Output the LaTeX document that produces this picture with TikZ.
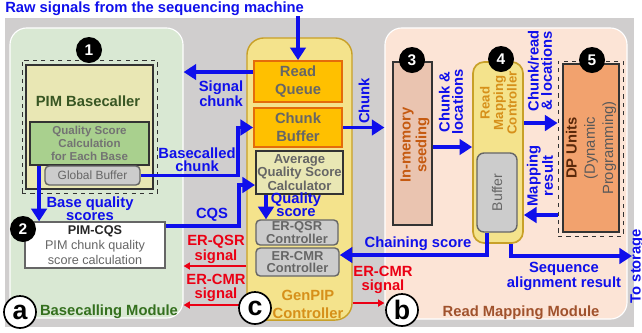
\documentclass[tikz,border=0pt]{standalone}
\usepackage{fontspec}
\setmainfont{Liberation Sans}
\usepackage{tikz}
\usetikzlibrary{arrows.meta}
\definecolor{bggray}{RGB}{208,206,206}
\definecolor{greenmod}{RGB}{217,232,211}
\definecolor{peachmod}{RGB}{252,228,214}
\definecolor{gpfill}{RGB}{244,227,140}
\definecolor{gpbord}{RGB}{200,160,40}
\definecolor{orfill}{RGB}{255,192,0}
\definecolor{orbord}{RGB}{228,108,10}
\definecolor{paleyel}{RGB}{233,231,180}
\definecolor{qsgreen}{RGB}{169,208,142}
\definecolor{boxgray}{RGB}{204,204,204}
\definecolor{seedfill}{RGB}{234,196,176}
\definecolor{dpfill}{RGB}{242,162,110}
\definecolor{myblue}{RGB}{15,15,235}
\definecolor{myred}{RGB}{235,0,20}
\definecolor{dkgreen}{RGB}{56,86,35}
\definecolor{modgreen}{RGB}{52,112,30}
\definecolor{brn}{RGB}{160,82,45}
\definecolor{seedtxt}{RGB}{197,90,17}
\definecolor{gpor}{RGB}{214,144,26}
\definecolor{dpbrown}{RGB}{90,40,10}

\begin{document}
\begin{tikzpicture}[x=0.025cm, y=-0.025cm,
    lbl/.style={text=myblue, font=\fontsize{10.5}{9.4}\selectfont\bfseries, align=center, inner sep=0pt},
    rlbl/.style={lbl, text=myred},
    barrow/.style={draw=myblue, line width=2.8pt, -{Triangle[length=9pt,width=11pt]}},
    rarrow/.style={draw=myred, line width=1.4pt, -{Triangle[length=4.5pt,width=5pt]}},
    numdot/.style={circle, fill=black, text=white, inner sep=0pt, minimum size=0.65cm, font=\fontsize{11}{11}\selectfont\bfseries},
    modtag/.style={circle, draw=black, line width=1.2pt, fill=white, inner sep=0pt, minimum size=0.8cm, font=\fontsize{19}{19}\selectfont\bfseries},
    module/.style={draw=white, line width=0.8pt, rounded corners=12pt},
    orbox/.style={draw=orbord, line width=1.2pt, fill=orfill, text=black!60, align=center, inner sep=1pt, font=\fontsize{10.5}{12.8}\selectfont\bfseries},
    ctlbox/.style={draw=black!60, line width=1pt, fill=boxgray, rounded corners=3pt, text=black!60, align=center, inner sep=0.5pt},
    darkbox/.style={draw=black!80, line width=1.3pt, inner sep=1pt},
    frm/.style={draw=black!80, dashed, line width=0.6pt}]
\useasboundingbox (0,0) rectangle (642,332);
\fill[bggray] (5,18) rectangle (634,327);

% modules
\node[module, fill=greenmod, minimum width=4.325cm, minimum height=7.25cm] (bcm) at (96.5,173) {};
\node[module, fill=peachmod, minimum width=6.05cm, minimum height=7.275cm] (rmm) at (506,173.5) {};
\node[draw=gpbord, fill=gpfill, line width=1pt, rounded corners=12pt, minimum width=2.625cm, minimum height=7.05cm] (gp) at (299.5,179) {};

% basecalling module
\node[frm, minimum width=3.375cm, minimum height=3.325cm] (pimfrm) at (89.5,126.5) {};
\node[darkbox, fill=paleyel, minimum width=3.175cm, minimum height=3.1cm] (pim) at (89.5,127) {};
\node[text=dkgreen, font=\fontsize{10.5}{12}\selectfont\bfseries] (pimt) at (88,101) {PIM Basecaller};
\node[darkbox, fill=qsgreen, minimum width=2.975cm, minimum height=1.075cm, text=black!55, align=center, font=\fontsize{8.2}{9.2}\selectfont\bfseries] (qs) at (89.5,143.5) {Quality Score\\Calculation\\for Each Base};
\node[ctlbox, minimum width=2.375cm, minimum height=0.475cm, font=\fontsize{8.5}{9}\selectfont] (gb) at (92.5,175.5) {Global Buffer};
\node[draw=black!60, line width=1pt, fill=white, minimum width=3.5cm, minimum height=1.15cm, inner sep=1pt, align=center, text=black!60, font=\fontsize{9}{10.6}\selectfont] (cqs) at (95,245) {\textcolor{black!85}{\bfseries PIM-CQS}\\PIM chunk quality\\score calculation};
\node[text=modgreen, font=\fontsize{10.5}{12}\selectfont\bfseries] (bct) at (109,312) {Basecalling Module};

% GenPIP controller
\node[orbox, minimum width=2.2cm, minimum height=1.025cm] (rq) at (298,81.5) {Read\\Queue};
\node[orbox, minimum width=2.2cm, minimum height=0.975cm] (cb) at (298,127.5) {Chunk\\Buffer};
\node[darkbox, fill=paleyel, minimum width=2.175cm, minimum height=1.075cm, align=center, text=black!60, font=\fontsize{9.3}{9.4}\selectfont\bfseries] (aqs) at (299.5,172.5) {Average\\Quality Score\\Calculator};
\node[ctlbox, minimum width=2.05cm, minimum height=0.625cm, font=\fontsize{9.2}{8.6}\selectfont\bfseries] (qsr) at (297,232.5) {ER-QSR\\Controller};
\node[ctlbox, minimum width=2.075cm, minimum height=0.7cm, font=\fontsize{9.2}{8.6}\selectfont\bfseries] (cmr) at (297.5,262) {ER-CMR\\Controller};
\node[text=gpor, align=center, font=\fontsize{10.5}{12.8}\selectfont\bfseries] (gpt) at (308,304) {GenPIP\\Controller};

% read mapping module
\node[darkbox, fill=seedfill, minimum width=0.975cm, minimum height=4.075cm] (seed) at (412.5,143.5) {};
\node[rotate=90, text=seedtxt, align=center, font=\fontsize{10.5}{11.3}\selectfont\bfseries] (seedt) at (415,145) {In-memory\\seeding};
\node[draw=gpbord, line width=1.2pt, fill=gpfill, rounded corners=8pt, minimum width=1.25cm, minimum height=4.525cm] (rmc) at (498,152.5) {};
\node[rotate=90, text=gpor, align=center, font=\fontsize{9.4}{9.6}\selectfont\bfseries] (rmct) at (498.5,103) {Read\\Mapping\\Controller};
\node[ctlbox, rounded corners=5pt, minimum width=1cm, minimum height=1.975cm] (buf) at (497,192.5) {};
\node[rotate=90, text=black!60, font=\fontsize{10}{11}\selectfont] (buft) at (497,192.5) {Buffer};
\node[frm, minimum width=1.625cm, minimum height=4.375cm] (dpfrm) at (590.5,148.5) {};
\node[darkbox, fill=dpfill, minimum width=1.4cm, minimum height=4.2cm] (dp) at (591,148) {};
\node[rotate=90, align=center, text=black!65, font=\fontsize{10.5}{13}\selectfont] (dpt) at (591,148) {\textcolor{dpbrown}{\bfseries DP Units}\\(Dynamic\\Programming)};
\node[text=brn, font=\fontsize{10.5}{12}\selectfont\bfseries] (rmt) at (521,313) {Read Mapping Module};

% blue connectors
\node[lbl, anchor=west] (raw) at (5,9) {Raw signals from the sequencing machine};
\draw[barrow] (raw.south -| rq.north) -- (rq.north);
\draw[barrow] (rq.west |- 0,72) -- (bcm.east |- 0,72);
\node[lbl] (sigl) at (221,94) {Signal\\chunk};
\draw[barrow] ([xshift=0.25cm]qs.south west) -- ([xshift=0.25cm]qs.south west |- cqs.north);
\node[lbl] (bql) at (90,209) {Base quality\\scores};
\draw[barrow] (gb.east) -| ([xshift=-0.375cm]cb.west) -- (cb.west);
\node[lbl] (bcl) at (197,160) {Basecalled\\chunk};
\coordinate (cqsin) at (aqs.west |- 0,185);
\draw[barrow] (cqs.east |- 0,226) -| ([xshift=-0.4cm]cqsin) -- (cqsin);
\node[lbl] (cqsl) at (212,215) {CQS};
\draw[barrow] (aqs.south -| 266,0) -- (qsr.north -| 266,0);
\node[lbl, font=\fontsize{10.5}{9}\selectfont\bfseries] (qsl) at (296,205) {Quality\\score};
\draw[barrow] (cb.east) -- (cb.east -| rmm.west);
\node[lbl, rotate=90] (chkl) at (364,101) {Chunk};
\draw[barrow] (seed.east |- 0,147) -- (rmc.west |- 0,147);
\node[lbl, rotate=90] (cll) at (451,102) {Chunk \&\\locations};
\draw[barrow] (rmc.east |- 0,123) -- (dpfrm.west |- 0,123);
\node[lbl, rotate=90] (crl) at (540,71) {Chunk/read\\\& locations};
\draw[barrow] (dpfrm.west |- 0,215) -- (rmc.east |- 0,215);
\node[lbl, rotate=90] (mrl) at (540,176) {Mapping\\result};
\draw[barrow] (buf.south -| 487,0) |- (cmr.east |- 0,255);
\node[lbl] (chl) at (418,244) {Chaining score};
\coordinate (store) at (632,256);
\draw[barrow] (rmc.south -| 511,0) |- (store);
\node[lbl] (sal) at (564,276) {Sequence\\alignment result};
\node[lbl, rotate=90] (tost) at (637,266) {To storage};

% red connectors
\draw[rarrow] (gp.west |- 0,266) -- (bcm.east |- 0,266);
\node[rlbl] (qsrl) at (216,249) {ER-QSR\\signal};
\draw[rarrow] (gp.west |- 0,305) -- (bcm.east |- 0,305);
\node[rlbl] (cmrl) at (216,288) {ER-CMR\\signal};
\draw[rarrow] (gp.east |- 0,303) -- (rmm.west |- 0,303);
\node[rlbl] (cmrr) at (383,280) {ER-CMR\\signal};

% badges
\node[numdot] (d1) at (89,50) {1};
\node[numdot] (d2) at (23,229) {2};
\node[numdot] (d3) at (412,60) {3};
\node[numdot] (d4) at (501,59) {4};
\node[numdot] (d5) at (592,60) {5};
\node[modtag] (ta) at (20,312) {a};
\node[modtag] (tc) at (255,308) {c};
\node[modtag] (tb) at (402,310) {b};
\end{tikzpicture}
\end{document}
